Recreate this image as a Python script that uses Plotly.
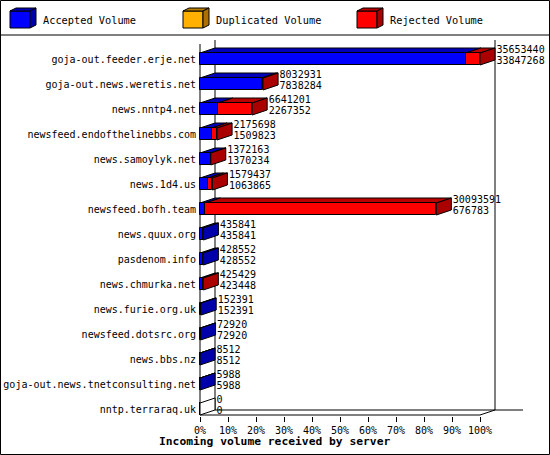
import plotly.graph_objects as go

servers = [
    "goja-out.feeder.erje.net",
    "goja-out.news.weretis.net",
    "news.nntp4.net",
    "newsfeed.endofthelinebbs.com",
    "news.samoylyk.net",
    "news.1d4.us",
    "newsfeed.bofh.team",
    "news.quux.org",
    "pasdenom.info",
    "news.chmurka.net",
    "news.furie.org.uk",
    "newsfeed.dotsrc.org",
    "news.bbs.nz",
    "goja-out.news.tnetconsulting.net",
    "nntp.terraraq.uk",
]
total = [35653440, 8032931, 6641201, 2175698, 1372163, 1579437, 30093591,
         435841, 428552, 425429, 152391, 72920, 8512, 5988, 0]
accepted = [33847268, 7838284, 2267352, 1509823, 1370234, 1063865, 676783,
            435841, 428552, 423448, 152391, 72920, 8512, 5988, 0]
duplicated = [0, 0, 0, 0, 0, 0, 0, 0, 0, 0, 0, 0, 0, 0, 0]
rejected = [1806172, 194647, 4373849, 665875, 1929, 515572, 29416808,
            0, 0, 1981, 0, 0, 0, 0, 0]

series = ["Accepted Volume", "Duplicated Volume", "Rejected Volume"]
front_col = ["#0000FF", "#FFB000", "#FF0000"]
top_col = ["#0000BB", "#BB8000", "#BB0000"]
side_col = ["#0000AA", "#AA7000", "#AA0000"]

FONT = "DejaVu Sans Mono"

# canvas / plot geometry (pixels)
W, H = 550, 455
L, R, T, B = 199, 20, 35, 39
X0PX, Y0PX = 200, 59      # pixel of 0% and of first row
PX = 2.8                  # px per percent
ROW = 25                  # px per row
x_min = (L - X0PX) / PX
x_max = (W - R - X0PX) / PX
y_top = (T - Y0PX) / ROW
y_bot = (H - B - Y0PX) / ROW
DX = 15 / PX
DY = 5 / ROW
HALF = 6 / ROW


def px(x):
    return (x - L) / (W - L - R)


def py(y):
    return (H - B - y) / (H - T - B)


def path(pts):
    return "M" + " L".join(f"{a},{b}" for a, b in pts) + " Z"


top = max(total)
rows = list(range(len(servers)))
pct = [[v / top * 100 for v in s] for s in (accepted, duplicated, rejected)]

fig = go.Figure()
shapes = []

# walls and floor
yf = (415 - Y0PX) / ROW
yb = yf - DY
line = dict(color="black", width=1)
for x0, y0, x1, y1 in [
    (0, (44 - Y0PX) / ROW, 0, yf),
    (DX, (40 - Y0PX) / ROW, DX, yb),
    (100 + DX, (40 - Y0PX) / ROW, 100 + DX, yb),
    (0, yf, 100, yf),
    (100, yf, 100 + DX, yb),
    (DX, yb, (523 - X0PX) / PX, yb),
]:
    shapes.append(dict(type="line", xref="x", yref="y", x0=x0, y0=y0,
                       x1=x1, y1=y1, line=line, layer="below"))

# front faces
starts = [[0] * len(rows) for _ in range(3)]
for i in rows:
    acc = 0
    for k in range(3):
        starts[k][i] = acc
        acc += pct[k][i]

for k in range(3):
    fig.add_trace(go.Bar(
        y=rows, x=pct[k], base=starts[k], orientation="h", width=2 * HALF,
        marker=dict(color=front_col[k], line=dict(color="black", width=1)),
        name=series[k], showlegend=False, hoverinfo="skip",
    ))

# top and side faces
ends = []
for i in rows:
    yt = i - HALF
    ybt = i + HALF
    last = None
    for k in range(3):
        v = pct[k][i]
        if v <= 0:
            continue
        s = starts[k][i]
        shapes.append(dict(type="path", xref="x", yref="y", layer="below",
                           path=path([(s, yt), (s + v, yt), (s + v + DX, yt - DY), (s + DX, yt - DY)]),
                           fillcolor=top_col[k], line=line))
        last = k
    e = starts[2][i] + pct[2][i]
    ends.append(e)
    shapes.append(dict(type="path", xref="x", yref="y", layer="below",
                       path=path([(e, yt), (e + DX, yt - DY), (e + DX, ybt - DY), (e, ybt)]),
                       fillcolor=side_col[last] if last is not None else "white", line=line))

# value labels
lab_x = [e + DX + 1.5 / PX for e in ends]
fig.add_trace(go.Scatter(
    x=lab_x, y=[i - 0.36 for i in rows], text=[str(v) for v in total],
    mode="text", textposition="middle right", cliponaxis=False,
    textfont=dict(family=FONT, size=10, color="black"),
    showlegend=False, hoverinfo="skip",
))
fig.add_trace(go.Scatter(
    x=lab_x, y=[i + 0.08 for i in rows], text=[str(v) for v in accepted],
    mode="text", textposition="middle right", cliponaxis=False,
    textfont=dict(family=FONT, size=10, color="black"),
    showlegend=False, hoverinfo="skip",
))

# legend drawn as 3D boxes
annotations = []
for k, lx in enumerate([10, 183, 357]):
    fx0, fx1, fy0, fy1 = lx, lx + 20, 11, 28
    pts_front = [(fx0, fy0), (fx1, fy0), (fx1, fy1), (fx0, fy1)]
    pts_top = [(fx0, fy0), (fx0 + 6, fy0 - 3), (fx1 + 6, fy0 - 3), (fx1, fy0)]
    pts_side = [(fx1, fy0), (fx1 + 6, fy0 - 3), (fx1 + 6, fy1 - 3), (fx1, fy1)]
    for pts, col in [(pts_front, front_col[k]), (pts_top, top_col[k]), (pts_side, side_col[k])]:
        shapes.append(dict(type="path", xref="paper", yref="paper",
                           path=path([(px(a), py(b)) for a, b in pts]),
                           fillcolor=col, line=line))
    annotations.append(dict(x=px(lx + 31), y=py(20), xref="paper", yref="paper",
                            text=series[k], showarrow=False, xanchor="left",
                            yanchor="middle", font=dict(family=FONT, size=10.3, color="black")))

# separator and outer border
shapes.append(dict(type="line", xref="paper", yref="paper", x0=px(0), x1=px(550),
                   y0=py(35), y1=py(35), line=line))
shapes.append(dict(type="rect", xref="paper", yref="paper", x0=px(0.5), x1=px(549.5),
                   y0=py(0.5), y1=py(454.5), line=line))

annotations.append(dict(x=px(274.5), y=py(441), xref="paper", yref="paper",
                        text="<b>Incoming volume received by server</b>", showarrow=False,
                        xanchor="center", yanchor="middle",
                        font=dict(family=FONT, size=11.3, color="black")))

fig.update_layout(
    width=W, height=H,
    margin=dict(l=L, r=R, t=T, b=B, pad=0, autoexpand=False),
    paper_bgcolor="white", plot_bgcolor="white",
    barmode="overlay", bargap=0,
    shapes=shapes, annotations=annotations,
    showlegend=False,
    xaxis=dict(range=[x_min, x_max], tickvals=list(range(0, 101, 10)),
               ticktext=[f"{v}%" for v in range(0, 101, 10)],
               ticks="outside", ticklen=5, tickcolor="black", tickwidth=1,
               showgrid=False, zeroline=False, showline=False, fixedrange=True,
               tickfont=dict(family=FONT, size=10, color="black")),
    yaxis=dict(range=[y_bot, y_top], tickvals=rows, ticktext=servers,
               ticks="", ticklabelstandoff=2,
               showgrid=False, zeroline=False, showline=False, fixedrange=True,
               tickfont=dict(family=FONT, size=10, color="black")),
)

fig.write_html("out.html", config={"displayModeBar": False},
               post_script="document.body.style.margin='0';")
